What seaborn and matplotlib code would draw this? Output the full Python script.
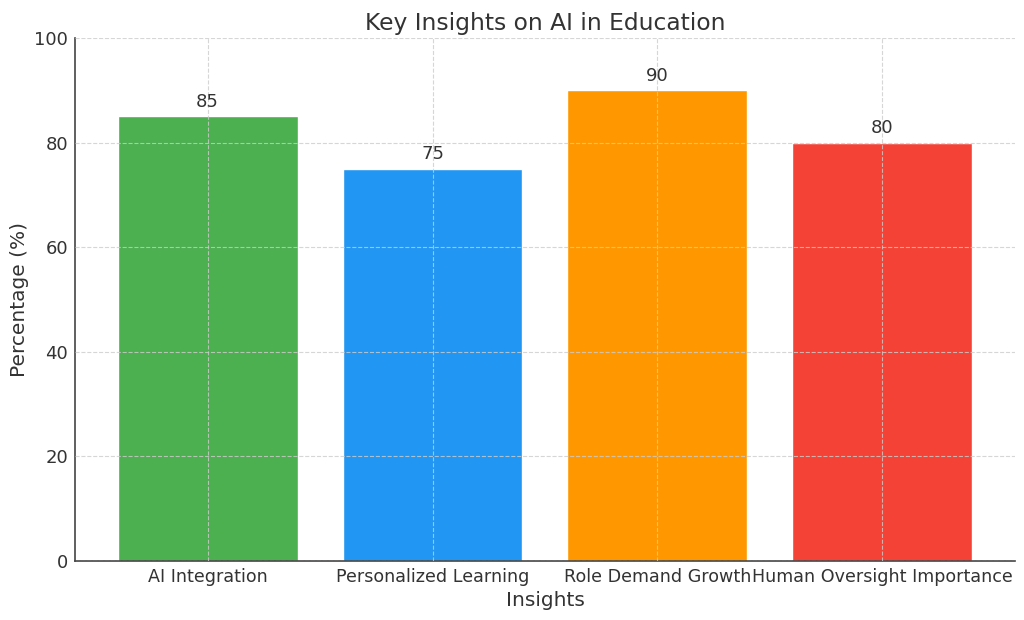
import matplotlib
matplotlib.use("Agg")
import matplotlib.pyplot as plt
import seaborn as sns
import pandas as pd

categories = ["AI Integration", "Personalized Learning", "Role Demand Growth", "Human Oversight Importance"]
values = [85, 75, 90, 80]
colors = ["#4CAF50", "#2196F3", "#FF9800", "#F44336"]
yticks = [0, 20, 40, 60, 80, 100]

sns.set_style("white")
plt.rcParams['font.family'] = ['DejaVu Sans']
txt = "#333333"

df = pd.DataFrame({"Insight": categories, "Value": values})

fig = plt.figure(figsize=(10.24, 6.2), dpi=100)
ax = fig.add_axes([0.0732, 0.0952, 0.9180, 0.8435])
sns.barplot(data=df, x="Insight", y="Value", hue="Insight", palette=colors,
            legend=False, width=0.8, saturation=1, ax=ax)
ax.set_xlim(-0.59, 3.59)
ax.set_ylim(0, 100)
ax.set_yticks(yticks)
ax.set_axisbelow(False)
ax.grid(True, linestyle="--", color="#cccccc", linewidth=0.8, alpha=0.8)

for p, v in zip(ax.patches, values):
    ax.annotate(f"{v}", (p.get_x() + p.get_width() / 2, p.get_height()),
                xytext=(0, 4), textcoords="offset points", ha="center", va="bottom",
                fontsize=13, color=txt)

ax.set_title("Key Insights on AI in Education", fontsize=16.8, color=txt, pad=6)
ax.set_xlabel("Insights", fontsize=14.5, color=txt, labelpad=4)
ax.set_ylabel("Percentage (%)", fontsize=14.5, color=txt)
ax.tick_params(axis="both", labelsize=13, colors=txt, length=4, width=1, direction="in", pad=5)
ax.tick_params(axis="x", labelsize=12.6)
for s in ["top", "right"]:
    ax.spines[s].set_visible(False)
for s in ["left", "bottom"]:
    ax.spines[s].set_color("#444444")
    ax.spines[s].set_linewidth(1.2)

fig.savefig("out.png", dpi=100)
